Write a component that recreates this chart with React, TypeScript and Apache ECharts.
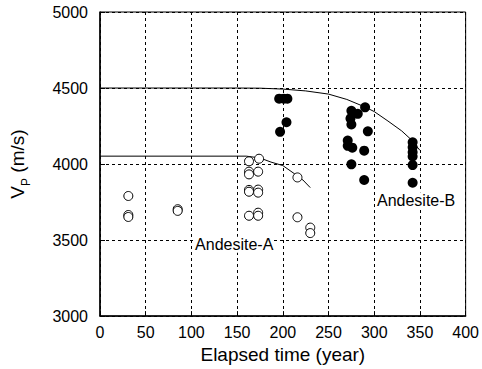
import React, { useEffect, useRef } from "react";
import * as echarts from "echarts";

const xTicks = [0, 400, 50];
const yTicks = [3000, 5000, 500];

const andesiteA: [number, number][] = [
  [31, 3790], [31, 3665], [31, 3652],
  [85, 3703], [85, 3692],
  [163, 4018], [163, 3950], [163, 3932], [163, 3830], [163, 3818], [163, 3660],
  [174, 4035], [173, 3950], [173, 3832], [173, 3812], [173, 3680], [173, 3660],
  [216, 3912], [216, 3650], [230, 3582], [230, 3546],
];

const andesiteB: [number, number][] = [
  [196, 4430], [201, 4430], [205, 4430], [197, 4212], [204, 4275],
  [275, 4350], [274, 4300], [275, 4260], [282, 4330], [290, 4373],
  [271, 4155], [271, 4120], [276, 4108], [293, 4215], [289, 4088],
  [275, 3998], [289, 3895],
  [342, 4143], [342, 4110], [342, 4077], [342, 4050], [342, 3993], [342, 3877],
];

const curveB: [number, number][] = [
  [0, 4500], [150, 4500], [175, 4499], [200, 4493], [225, 4481], [250, 4460],
  [270, 4425], [290, 4375], [300, 4345], [315, 4283], [330, 4218], [340, 4163], [350, 4090],
];

const curveA: [number, number][] = [
  [0, 4052], [160, 4052], [175, 4040], [187, 4013], [200, 3990], [213, 3935],
  [222, 3895], [230, 3845],
];

const labels: { name: string; x: number; y: number }[] = [
  { name: "Andesite-A", x: 104, y: 3470 },
  { name: "Andesite-B", x: 303, y: 3762 },
];

const FONT = "Liberation Sans, Arial, sans-serif";

export default function App() {
  const ref = useRef<HTMLDivElement>(null);
  useEffect(() => {
    if (!ref.current) return;
    const chart = echarts.init(ref.current, undefined, { renderer: "svg" });
    const gridLine = { show: true, lineStyle: { color: "#000", type: [3, 3] as any, width: 1 } };
    chart.setOption({
      animation: false,
      backgroundColor: "#fff",
      grid: { left: 97, right: 16, top: 12, bottom: 51, show: true, borderColor: "#000", borderWidth: 1 },
      xAxis: {
        type: "value",
        min: xTicks[0], max: xTicks[1], interval: xTicks[2],
        name: "Elapsed time (year)",
        nameLocation: "middle",
        nameGap: 21,
        nameTextStyle: { fontFamily: FONT, fontSize: 19, color: "#000", verticalAlign: "top" },
        axisLine: { lineStyle: { color: "#000", width: 1.5 } },
        axisTick: { inside: true, length: 5, lineStyle: { color: "#000" } },
        axisLabel: { fontFamily: FONT, fontSize: 16, color: "#000", margin: 8 },
        splitLine: gridLine,
      },
      yAxis: {
        type: "value",
        min: yTicks[0], max: yTicks[1], interval: yTicks[2],
        name: "{a|V}{b|P}{a| (m/s)}",
        nameLocation: "middle",
        nameGap: 68,
        nameRotate: 90,
        nameTextStyle: {
          fontFamily: FONT, fontSize: 19, color: "#000",
          rich: {
            a: { fontFamily: FONT, fontSize: 19, color: "#000", lineHeight: 24, verticalAlign: "top" },
            b: { fontFamily: FONT, fontSize: 12, color: "#000", lineHeight: 24, verticalAlign: "bottom", padding: [9, 0, 0, 0] },
          },
        },
        axisLine: { show: true, lineStyle: { color: "#000", width: 1.5 } },
        axisTick: { show: true, inside: true, length: 5, lineStyle: { color: "#000" } },
        axisLabel: { fontFamily: FONT, fontSize: 16, color: "#000", margin: 12, formatter: (v: number) => String(v) },
        splitLine: gridLine,
      },
      series: [
        {
          type: "line", data: curveB, symbol: "none", silent: true,
          lineStyle: { color: "#000", width: 1 }, z: 2,
        },
        {
          type: "line", data: curveA, symbol: "none", silent: true,
          lineStyle: { color: "#000", width: 1 }, z: 2,
        },
        {
          type: "scatter", data: andesiteA, symbol: "circle", symbolSize: 9,
          itemStyle: { color: "#fff", borderColor: "#000", borderWidth: 1, opacity: 1 }, z: 3,
        },
        {
          type: "scatter", data: andesiteB, symbol: "circle", symbolSize: 10,
          itemStyle: { color: "#000", borderColor: "#000", borderWidth: 0, opacity: 1 }, z: 3,
        },
        {
          type: "scatter", symbolSize: 0, silent: true, z: 4,
          itemStyle: { opacity: 1 },
          data: labels.map((l) => ({ value: [l.x, l.y], name: l.name })),
          label: {
            show: true, position: "right", distance: 0, formatter: "{b}",
            fontFamily: FONT, fontSize: 16, color: "#000", opacity: 1,
            backgroundColor: "#fff",
          },
        },
      ],
    });
    return () => chart.dispose();
  }, []);
  return <div ref={ref} style={{ width: 482, height: 369, position: "absolute", left: 0, top: 0 }} />;
}
